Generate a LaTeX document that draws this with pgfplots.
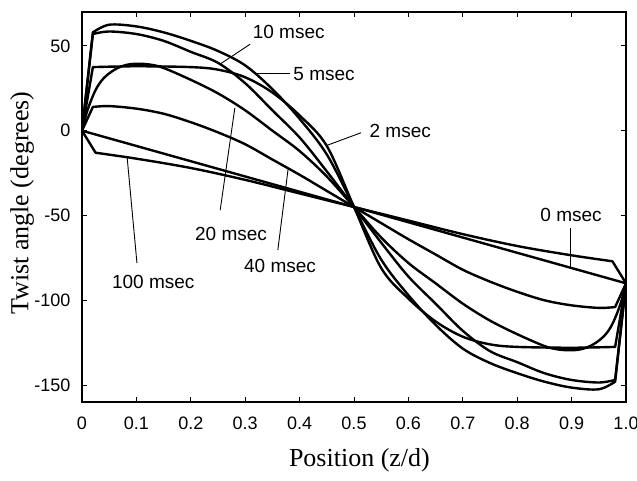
\documentclass[border=0pt]{standalone}
\usepackage{fontspec}
\setmainfont{Liberation Serif}
\newfontfamily\sansfont{Liberation Sans}
\usepackage{pgfplots}
\pgfplotsset{compat=1.18}

\begin{document}
\begin{tikzpicture}
\begin{axis}[
  scale only axis,
  width=544pt, height=390pt,
  xmin=0, xmax=1, ymin=-160, ymax=70,
  xtick={0,0.1,0.2,0.3,0.4,0.5,0.6,0.7,0.8,0.9,1.0},
  xticklabels={0,0.1,0.2,0.3,0.4,0.5,0.6,0.7,0.8,0.9,1.0},
  ytick={-150,-100,-50,0,50},
  yticklabels={-150,-100,-50,0,50},
  /pgf/number format/assume math mode=true,
  tick label style={font=\sansfont\fontsize{18}{20}\selectfont},
  xticklabel style={yshift=-11pt},
  yticklabel style={xshift=-8pt},
  major tick length=5pt,
  tick style={line width=1pt, black},
  axis line style={line width=1.8pt},
  xlabel={Position (z/d)},
  ylabel={Twist angle (degrees)},
  label style={font=\fontsize{26}{30}\selectfont},
  xlabel style={at={(axis description cs:0.51,-0.149)}, anchor=center},
  ylabel style={at={(axis description cs:-0.110,0.51)}, anchor=center},
  cycle list={{black, solid, mark=none}},
  every axis plot/.append style={line width=2.4pt, line join=round, line cap=round},
  bulk/.style={smooth, tension=0.55},
]
\coordinate (SW) at (rel axis cs:0,0);
\coordinate (NE) at (rel axis cs:1,1);

% 5 msec: surface layers, then the bulk profile
\addplot coordinates {(0,0) (0.02,58)};
\addplot[bulk] coordinates {(0.02,58) (0.05,62.5) (0.1,61.5) (0.15,58) (0.2,53) (0.25,47) (0.3,38.5) (0.35,24.5) (0.4,7) (0.45,-14) (0.5,-45)
 (0.55,-76) (0.6,-97) (0.65,-114.5) (0.7,-128.5) (0.75,-137) (0.8,-143) (0.85,-148) (0.9,-151.5) (0.95,-152.5) (0.98,-148)};
\addplot coordinates {(0.98,-148) (1,-90)};

% 10 msec
\addplot coordinates {(0,0) (0.02,57)};
\addplot[bulk] coordinates {(0.02,57) (0.05,58.5) (0.1,57) (0.15,53) (0.2,46.5) (0.25,40) (0.3,28) (0.35,12) (0.4,-4) (0.45,-24) (0.5,-45)
 (0.55,-66) (0.6,-86) (0.65,-102) (0.7,-118) (0.75,-130) (0.8,-136.5) (0.85,-143) (0.9,-147) (0.95,-148.5) (0.98,-147)};
\addplot coordinates {(0.98,-147) (1,-90)};

% 2 msec
\addplot coordinates {(0,0) (0.02,37.5)};
\addplot[bulk] coordinates {(0.02,37.5) (0.1,38) (0.2,37.5) (0.25,36) (0.3,31.5) (0.35,22.5) (0.4,9) (0.45,-9) (0.5,-45)
 (0.55,-81) (0.6,-99) (0.65,-112.5) (0.7,-121.5) (0.75,-126) (0.8,-127.5) (0.9,-128) (0.98,-127.5)};
\addplot coordinates {(0.98,-127.5) (1,-90)};

% 20 msec
\addplot[bulk] coordinates {(0,0) (0.01,12) (0.025,24) (0.04,31) (0.06,36) (0.08,38.7) (0.1,39.5) (0.125,39) (0.15,37) (0.2,30) (0.25,22) (0.3,12) (0.35,0) (0.4,-12) (0.45,-27) (0.5,-45)
 (0.55,-63) (0.6,-78) (0.65,-90) (0.7,-102) (0.75,-112) (0.8,-120) (0.85,-127) (0.875,-129) (0.9,-129.5) (0.92,-128.7) (0.94,-126) (0.96,-121) (0.975,-114) (0.99,-102) (1,-90)};

% 40 msec
\addplot coordinates {(0,0) (0.02,14)};
\addplot[bulk] coordinates {(0.02,14) (0.05,14.5) (0.1,13) (0.15,10) (0.2,5) (0.25,-1) (0.3,-8) (0.35,-17) (0.4,-26) (0.45,-35.5) (0.5,-45)
 (0.55,-54.5) (0.6,-64) (0.65,-73) (0.7,-82) (0.75,-89) (0.8,-95) (0.85,-100) (0.9,-103) (0.95,-104.5) (0.98,-104)};
\addplot coordinates {(0.98,-104) (1,-90)};

% 100 msec
\addplot coordinates {(0,0) (0.025,-13)};
\addplot[bulk] coordinates {(0.025,-13) (0.1,-16.5) (0.2,-22) (0.3,-29) (0.4,-37) (0.5,-45)
 (0.6,-53) (0.7,-61) (0.8,-68) (0.9,-73.5) (0.975,-77)};
\addplot coordinates {(0.975,-77) (1,-90)};

% 0 msec: uniform twist
\addplot coordinates {(0,0) (1,-90)};

\begin{scope}[every node/.style={font=\sansfont\fontsize{19}{22}\selectfont, inner sep=0pt}, line width=0.9pt]
\node at (axis cs:0.380,58.0) {10 msec};
\draw (axis cs:0.309,51) -- (axis cs:0.254,39.3);
\node at (axis cs:0.445,33.4) {5 msec};
\draw (axis cs:0.382,34) -- (axis cs:0.318,34);
\node at (axis cs:0.585,0) {2 msec};
\draw (axis cs:0.513,-1.2) -- (axis cs:0.449,-8.8);
\node at (axis cs:0.274,-61) {20 msec};
\draw (axis cs:0.254,-46.9) -- (axis cs:0.281,13.5);
\node at (axis cs:0.364,-79.7) {40 msec};
\draw (axis cs:0.360,-70.3) -- (axis cs:0.379,-22.3);
\node at (axis cs:0.131,-89.1) {100 msec};
\draw (axis cs:0.101,-78) -- (axis cs:0.083,-15.8);
\node at (axis cs:0.899,-49.8) {0 msec};
\draw (axis cs:0.897,-57.4) -- (axis cs:0.897,-80.9);
\end{scope}
\end{axis}
\pgfresetboundingbox
\path[use as bounding box] ([shift={(-82pt,-78pt)}]SW) rectangle ([shift={(11pt,12pt)}]NE);
\end{tikzpicture}
\end{document}
